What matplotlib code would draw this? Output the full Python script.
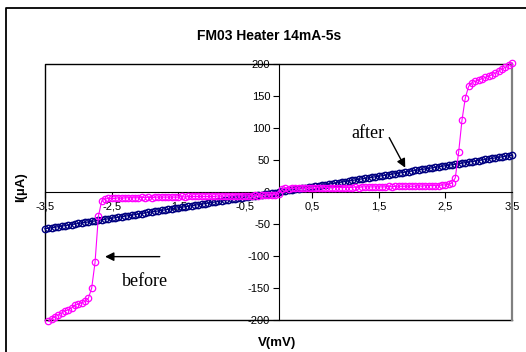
import numpy as np
import matplotlib.pyplot as plt
from matplotlib.lines import Line2D

# voltage sweep (mV), 0.05 mV step
volts = np.round(np.arange(-3.5, 3.5001, 0.05), 2)

# "after" curve (uA)
i_after = [
    -57.4, -56.6, -55.8, -54.9, -54.1, -53.3, -52.5, -51.7, -50.8, -50.0,
    -49.2, -48.4, -47.6, -46.7, -45.9, -45.1, -44.3, -43.5, -42.6, -41.8,
    -41.0, -40.2, -39.4, -38.5, -37.7, -36.9, -36.1, -35.3, -34.4, -33.6,
    -32.8, -32.0, -31.2, -30.3, -29.5, -28.7, -27.9, -27.1, -26.2, -25.4,
    -24.6, -23.8, -23.0, -22.1, -21.3, -20.5, -19.7, -18.9, -18.0, -17.2,
    -16.4, -15.6, -14.8, -13.9, -13.1, -12.3, -11.5, -10.7, -9.8, -9.0,
    -8.2, -7.4, -6.6, -5.7, -4.9, -4.1, -3.3, -2.5, -1.6, -0.8,
    0.0,
    0.8, 1.6, 2.5, 3.3, 4.1, 4.9, 5.7, 6.6, 7.4, 8.2,
    9.0, 9.8, 10.7, 11.5, 12.3, 13.1, 13.9, 14.8, 15.6, 16.4,
    17.2, 18.0, 18.9, 19.7, 20.5, 21.3, 22.1, 23.0, 23.8, 24.6,
    25.4, 26.2, 27.1, 27.9, 28.7, 29.5, 30.3, 31.2, 32.0, 32.8,
    33.6, 34.4, 35.3, 36.1, 36.9, 37.7, 38.5, 39.4, 40.2, 41.0,
    41.8, 42.6, 43.5, 44.3, 45.1, 45.9, 46.7, 47.6, 48.4, 49.2,
    50.0, 50.8, 51.7, 52.5, 53.3, 54.1, 54.9, 55.8, 56.6, 57.4,
]

# "before" curve (uA)
i_before = [
    np.nan, -202, -198, -195, -192, -189, -186, -184, -181, -177,
    -175, -173, -171, -166, -150, -110, -38, -14, -11, -10,
    -10, -10, -9, -10, -9, -9, -9, -9, -9, -8,
    -9, -8, -9, -8, -8, -8, -8, -8, -8, -8,
    -8, -7, -8, -7, -7, -7, -7, -7, -7, -7,
    -7, -7, -6, -7, -6, -6, -6, -6, -6, -6,
    -6, -6, -6, -5, -6, -5, -5, -5, -5, -4,
    -3,
    5, 6, 5, 6, 6, 6, 6, 6, 6, 6,
    6, 7, 6, 7, 7, 7, 7, 7, 7, 7,
    7, 7, 8, 7, 8, 8, 8, 8, 8, 8,
    8, 8, 9, 8, 9, 9, 9, 9, 9, 9,
    9, 10, 9, 10, 10, 10, 10, 10, 11, 11,
    12, 14, 22, 62, 112, 147, 165, 171, 173, 175,
    177, 179, 181, 183, 186, 189, 192, 195, 198, 202,
]

x_ticks = [-3.5, -2.5, -1.5, -0.5, 0.5, 1.5, 2.5, 3.5]
x_labels = ['-3,5', '-2,5', '-1,5', '-0,5', '0,5', '1,5', '2,5', '3,5']
y_ticks = [-200, -150, -100, -50, 0, 50, 100, 150, 200]

plt.rcParams['font.family'] = ['Liberation Sans', 'DejaVu Sans']

fig = plt.figure(figsize=(5.26, 3.52), dpi=100)
ax = fig.add_axes([45/526, 1-320/352, 467/526, 256/352])

ax.plot(volts, i_after, color='#000080', lw=0.9, marker='o', ms=4.6,
        mfc='none', mew=1.0, clip_on=False, zorder=3)
ax.plot(volts, i_before, color='#FF00FF', lw=0.8, marker='o', ms=4.6,
        mfc='none', mew=0.9, clip_on=False, zorder=4)

ax.set_xlim(-3.5, 3.5)
ax.set_ylim(-200, 200)
ax.set_axisbelow(True)

ax.spines['left'].set_position(('data', 0))
ax.spines['bottom'].set_position(('data', 0))
ax.spines['top'].set_visible(False)
ax.spines['right'].set_visible(False)

ax.set_xticks(x_ticks)
ax.set_xticklabels(x_labels)
ax.set_yticks(y_ticks)
ax.set_yticklabels([str(v) for v in y_ticks])
ax.tick_params(axis='both', direction='out', length=4, width=0.8,
               labelsize=8)
ax.tick_params(axis='x', pad=3)
ax.tick_params(axis='y', pad=2)

# plot area frame
ax.add_line(Line2D([0, 0, 1], [0, 1, 1], transform=ax.transAxes,
                   color='black', lw=1, clip_on=False))
ax.add_line(Line2D([0, 1], [0, 0], transform=ax.transAxes,
                   color='black', lw=1, clip_on=False))
ax.add_line(Line2D([1, 1], [0, 1], transform=ax.transAxes,
                   color='#808080', lw=1.6, clip_on=False))

# outer chart border
fig.add_artist(Line2D([6/526, 6/526, 1], [0, 1-8/352, 1-8/352],
                      transform=fig.transFigure, color='black', lw=1.3))

fig.text(0.512, 0.898, 'FM03 Heater 14mA-5s', ha='center', va='center',
         fontsize=10, fontweight='bold')
fig.text(0.527, 0.026, 'V(mV)', ha='center', va='center',
         fontsize=9.5, fontweight='bold')
fig.text(0.040, 0.469, 'I(\u00b5A)', ha='center', va='center',
         fontsize=9.5, fontweight='bold', rotation=90)

arrow = dict(arrowstyle='-|>', mutation_scale=13, color='black', lw=1,
             shrinkA=0, shrinkB=0)
ax.annotate('', xy=(1.90, 38), xytext=(1.66, 85), arrowprops=arrow)
ax.annotate('', xy=(-2.60, -101), xytext=(-1.78, -101), arrowprops=arrow)
ax.text(1.34, 92, 'after', ha='center', va='center', fontsize=13,
        family='Liberation Serif')
ax.text(-2.0, -140, 'before', ha='center', va='center', fontsize=13,
        family='Liberation Serif')

fig.savefig('out.png', dpi=100)
